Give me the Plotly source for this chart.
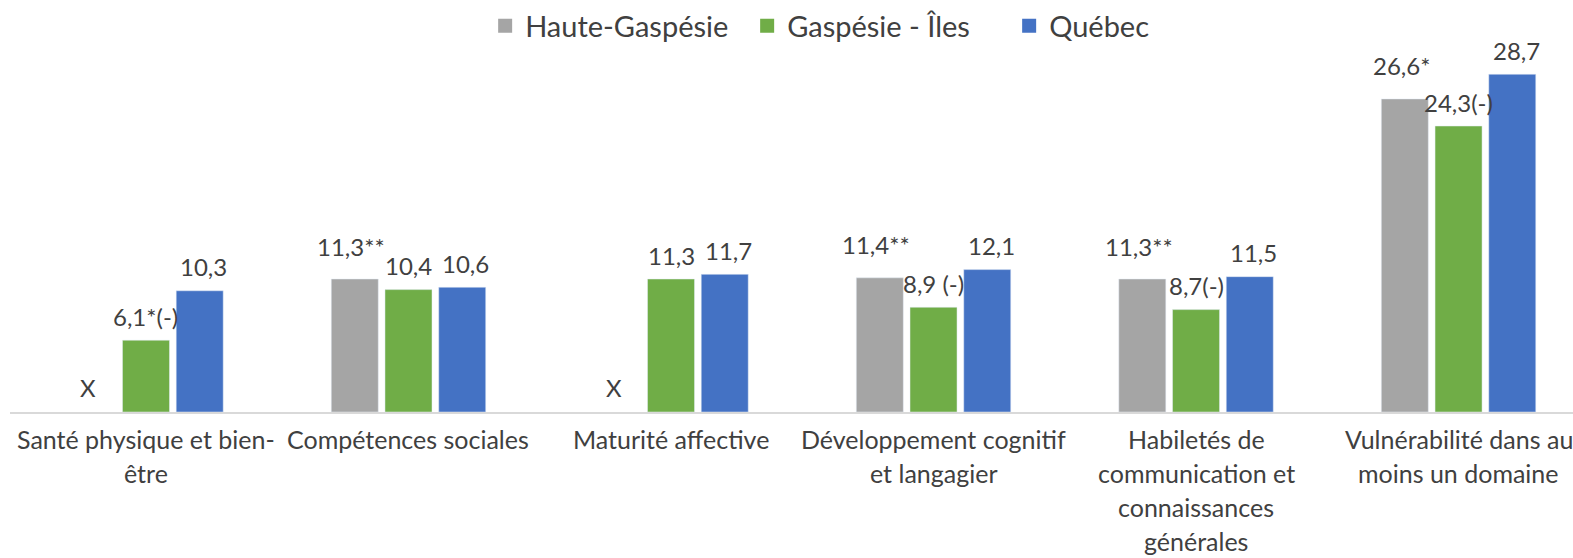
import plotly.graph_objects as go

# Categories (line breaks as in the source chart)
categories = [
    "Santé physique et bien-<br>être",
    "Compétences sociales",
    "Maturité affective",
    "Développement cognitif<br>et langagier",
    "Habiletés de<br>communication et<br>connaissances<br>générales",
    "Vulnérabilité dans au<br>moins un domaine",
]

series_names = ["Haute-Gaspésie", "Gaspésie - Îles", "Québec"]

haute_values = [None, 11.3, None, 11.4, 11.3, 26.6]
gaspesie_values = [6.1, 10.4, 11.3, 8.9, 8.7, 24.3]
quebec_values = [10.3, 10.6, 11.7, 12.1, 11.5, 28.7]

haute_labels = ["X", "11,3**", "X", "11,4**", "11,3**", "26,6*"]
gaspesie_labels = ["6,1*(-)", "10,4", "11,3", "8,9 (-)", "8,7(-)", "24,3(-)"]
quebec_labels = ["10,3", "10,6", "11,7", "12,1", "11,5", "28,7"]

colors = ["#A5A5A5", "#70AD47", "#4472C4"]
text_color = "#404040"
font_family = "Lato"

keys = [str(i) for i in range(len(categories))]

fig = go.Figure()

all_values = [haute_values, gaspesie_values, quebec_values]
all_labels = [haute_labels, gaspesie_labels, quebec_labels]

for name, vals, color in zip(series_names, all_values, colors):
    fig.add_trace(go.Bar(
        x=keys,
        y=vals,
        name=name,
        marker=dict(color=color),
        showlegend=False,
        hoverinfo="skip",
    ))

# legend entries with bigger square swatches
for name, color in zip(series_names, colors):
    fig.add_trace(go.Scatter(
        x=[None], y=[None],
        mode="markers",
        name=name,
        marker=dict(symbol="square", size=14, color=color),
    ))

# Data labels above bars
slot = 0.219
label_shift = [33, 24, 24]
for k, (vals, labels) in enumerate(zip(all_values, all_labels)):
    for i, (v, lbl) in enumerate(zip(vals, labels)):
        missing = v is None
        fig.add_annotation(
            x=i + (k - 1) * slot,
            y=0 if missing else v,
            xref="x", yref="y",
            text=lbl,
            showarrow=False,
            yanchor="middle",
            yshift=25 if missing else label_shift[k],
            font=dict(family=font_family, size=24, color=text_color),
        )

# Category labels, one annotation per line for Excel-like line spacing
for i, cat in enumerate(categories):
    for j, line in enumerate(cat.split("<br>")):
        fig.add_annotation(
            x=i, y=0,
            xref="x", yref="y",
            text=line,
            showarrow=False,
            yanchor="middle",
            yshift=-(27 + 34 * j),
            font=dict(family=font_family, size=25, color=text_color),
        )

fig.update_layout(
    width=1573,
    height=558,
    margin=dict(l=10, r=0, t=60, b=146),
    paper_bgcolor="white",
    plot_bgcolor="white",
    barmode="group",
    bargap=0.386,
    bargroupgap=0.125,
    font=dict(family=font_family, color=text_color),
    legend=dict(
        orientation="h",
        x=0.304, xanchor="left",
        y=1.116, yanchor="middle",
        entrywidth=217,
        entrywidthmode="pixels",
        font=dict(family=font_family, size=29, color=text_color),
        itemclick=False,
    ),
    xaxis=dict(
        type="category",
        range=[-0.518, 5.436],
        showticklabels=False,
        ticks="",
        showline=True,
        linecolor="#D9D9D9",
        linewidth=2,
        showgrid=False,
    ),
    yaxis=dict(
        range=[0, 29.4],
        visible=False,
        showgrid=False,
        zeroline=False,
    ),
)

# drop the default body margin so the figure sits at the page corner
fig.write_html("out.html", config={"displayModeBar": False},
               post_script="document.body.style.margin='0';")
